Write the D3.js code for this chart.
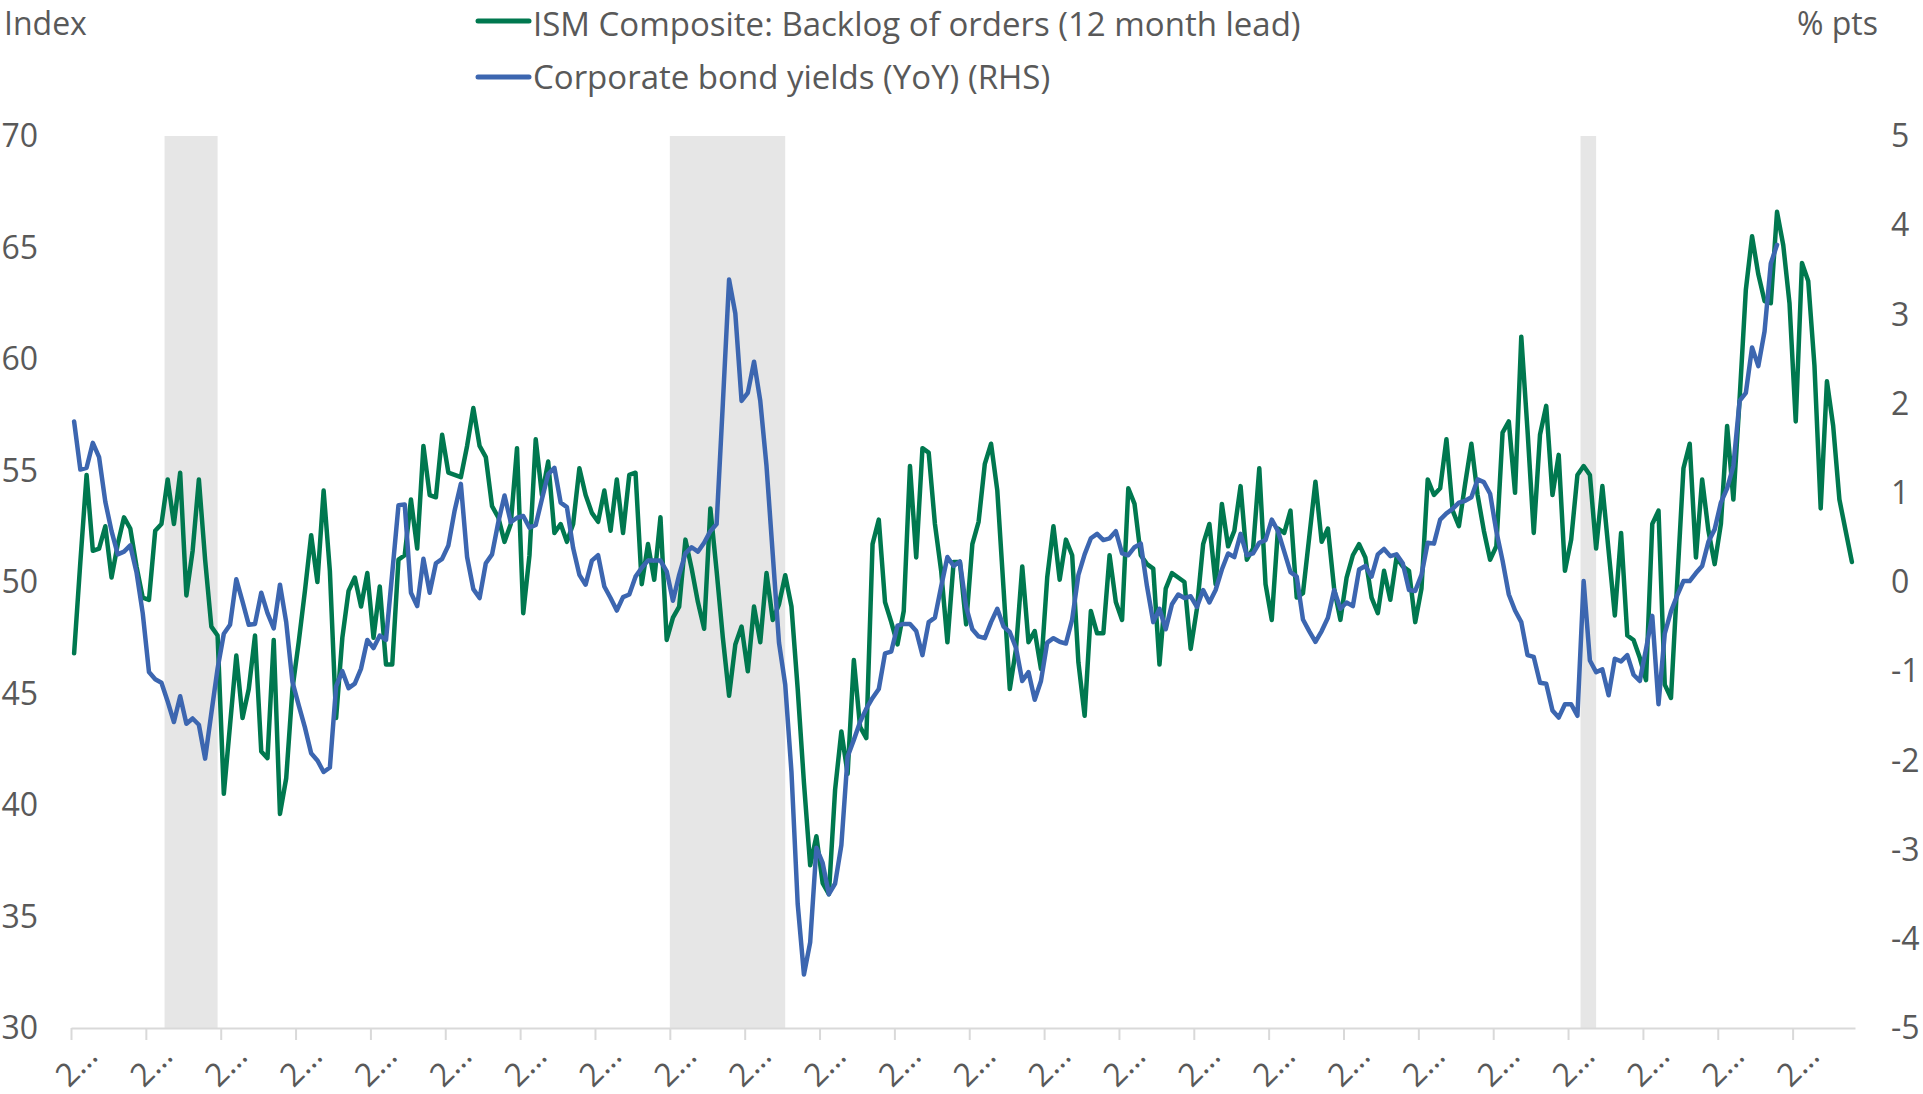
<!DOCTYPE html>
<html><head><meta charset="utf-8">
<script src="https://cdn.jsdelivr.net/npm/d3@7"></script>
<style>
html,body{margin:0;padding:0;background:#fff;}
svg{display:block;}
text{font-family:"Segoe UI","Open Sans",sans-serif;fill:#595959;}
</style></head><body>
<svg id="chart" width="1923" height="1094"></svg>
<script>
// ---------------- data ----------------
const startYear = 2000;           // first category: Jan 2000, monthly
const ismBacklog = [ // ISM Composite: Backlog of orders (12 month lead), Jan 2000 - Oct 2023
46.8,50.9,54.8,51.4,51.5,52.5,50.2,51.7,52.9,52.4,50.7,49.3,
49.2,52.3,52.6,54.6,52.6,54.9,49.4,51.4,54.6,51.0,48.0,47.6,
40.5,43.6,46.7,43.9,45.2,47.6,42.4,42.1,47.4,39.6,41.2,45.2,
47.3,49.6,52.1,50.0,54.1,50.5,43.9,47.5,49.6,50.2,48.9,50.4,
47.5,49.8,46.3,46.3,51.0,51.2,53.7,51.5,56.1,53.9,53.8,56.6,
54.9,54.8,54.7,56.1,57.8,56.1,55.6,53.4,52.9,51.8,52.6,56.0,
48.6,51.2,56.4,53.9,55.4,52.2,52.6,51.8,52.6,55.1,53.9,53.1,
52.7,54.1,52.3,54.6,52.2,54.8,54.9,49.9,51.7,50.1,52.9,47.4,
48.4,48.9,51.9,50.6,49.1,47.9,53.3,50.5,47.5,44.9,47.2,48.0,
46.0,48.9,47.3,50.4,48.3,49.0,50.3,48.9,45.2,41.0,37.3,38.6,
36.5,36.0,40.7,43.3,41.4,46.5,43.5,43.0,51.7,52.8,49.1,48.2,
47.2,48.7,55.2,51.1,56.0,55.8,52.6,50.5,47.3,50.9,50.9,48.1,
51.7,52.7,55.3,56.2,54.1,49.7,45.2,47.0,50.7,47.3,47.8,46.1,
50.2,52.5,50.1,51.9,51.2,46.4,44.0,48.7,47.7,47.7,51.2,49.1,
48.3,54.2,53.5,51.2,50.8,50.6,46.3,49.7,50.4,50.2,50.0,47.0,
48.8,51.7,52.6,49.9,53.5,51.6,52.3,54.3,51.0,51.5,55.1,49.9,
48.3,52.4,52.2,53.2,49.3,49.5,52.0,54.5,51.8,52.4,49.7,48.3,
50.2,51.2,51.7,51.1,49.3,48.6,50.5,49.2,51.1,50.7,50.5,48.2,
49.7,54.6,53.9,54.2,56.4,53.2,52.5,54.4,56.2,53.9,52.3,51.0,
51.6,56.7,57.2,54.0,61.0,56.8,52.2,56.6,57.9,53.9,55.7,50.5,
51.9,54.8,55.2,54.8,51.5,54.3,51.4,48.5,52.2,47.6,47.4,46.6,
45.6,52.6,53.2,45.4,44.8,50.0,55.1,56.2,51.1,54.6,52.3,50.8,
52.6,57.0,53.7,58.2,63.1,65.5,63.8,62.6,62.5,66.6,65.1,62.5,
57.2,64.3,63.5,59.7,53.3,59.0,57.0,53.7,52.3,50.9
];
const bondYieldsYoY = [ // Corporate bond yields (YoY), % pts, Jan 2000 - Oct 2022
1.80,1.26,1.28,1.56,1.40,0.90,0.57,0.31,0.34,0.41,0.11,-0.35,
-1.01,-1.09,-1.13,-1.34,-1.57,-1.28,-1.59,-1.53,-1.60,-1.98,-1.47,-0.97,
-0.58,-0.48,0.03,-0.22,-0.48,-0.47,-0.12,-0.35,-0.52,-0.03,-0.45,-1.12,
-1.38,-1.63,-1.92,-2.00,-2.13,-2.08,-1.17,-1.00,-1.19,-1.14,-0.97,-0.65,
-0.74,-0.60,-0.65,0.10,0.86,0.87,-0.12,-0.27,0.26,-0.12,0.21,0.26,
0.41,0.80,1.10,0.28,-0.08,-0.18,0.21,0.31,0.67,0.97,0.67,0.72,
0.74,0.61,0.64,0.93,1.21,1.28,0.89,0.84,0.38,0.08,-0.03,0.24,
0.30,-0.05,-0.18,-0.32,-0.17,-0.14,0.06,0.16,0.24,0.24,0.24,0.12,
-0.21,0.08,0.32,0.39,0.34,0.44,0.57,0.65,2.00,3.39,3.01,2.03,
2.12,2.47,2.03,1.30,0.31,-0.68,-1.15,-2.13,-3.61,-4.40,-4.04,-2.98,
-3.15,-3.50,-3.38,-2.95,-1.96,-1.77,-1.57,-1.42,-1.30,-1.20,-0.80,-0.78,
-0.49,-0.47,-0.47,-0.55,-0.82,-0.45,-0.40,-0.05,0.28,0.18,0.23,-0.28,
-0.53,-0.61,-0.63,-0.45,-0.30,-0.50,-0.56,-0.74,-1.11,-1.01,-1.32,-1.11,
-0.68,-0.63,-0.67,-0.69,-0.42,0.08,0.31,0.49,0.54,0.47,0.49,0.57,
0.32,0.30,0.39,0.43,-0.05,-0.45,-0.30,-0.53,-0.25,-0.14,-0.18,-0.16,
-0.28,-0.09,-0.23,-0.09,0.14,0.32,0.28,0.54,0.30,0.32,0.44,0.47,
0.70,0.57,0.34,0.11,0.06,-0.42,-0.55,-0.67,-0.55,-0.40,-0.09,-0.30,
-0.23,-0.27,0.14,0.18,0.06,0.31,0.37,0.29,0.31,0.21,-0.09,-0.10,
0.08,0.44,0.43,0.70,0.77,0.82,0.89,0.91,0.95,1.15,1.12,0.99,
0.57,0.24,-0.14,-0.32,-0.45,-0.82,-0.84,-1.13,-1.14,-1.44,-1.52,-1.37,
-1.37,-1.50,0.01,-0.88,-1.01,-0.98,-1.27,-0.86,-0.89,-0.82,-1.04,-1.11,
-0.75,-0.38,-1.37,-0.58,-0.33,-0.15,0.01,0.01,0.10,0.18,0.45,0.59,
0.89,1.05,1.30,2.03,2.12,2.63,2.42,2.81,3.57,3.78
];
const recessions = [ ["2001-04","2001-11"], ["2008-01","2009-06"], ["2020-03","2020-04"] ];
const tickYears  = [2000,2001,2002,2003,2004,2005,2006,2007,2008,2009,2010,2011,
                    2012,2013,2014,2015,2016,2017,2018,2019,2020,2021,2022,2023];
const tickLabels = ["2…","2…","2…","2…","2…","2…","2…","2…","2…","2…","2…","2…",
                    "2…","2…","2…","2…","2…","2…","2…","2…","2…","2…","2…","2…"];
const leftTicks  = [30,35,40,45,50,55,60,65,70];
const rightTicks = [-5,-4,-3,-2,-1,0,1,2,3,4,5];
const seriesNames = ["ISM Composite: Backlog of orders (12 month lead)", "Corporate bond yields (YoY) (RHS)"];
const axisTitles = ["Index", "% pts"];

// ---------------- chart ----------------
const GREEN = "#00784F", BLUE = "#3C66B0", GREY_TXT = "#595959", AXIS = "#D9D9D9", SHADE = "#E6E6E6";
const FS = 32, FS_LEG = 33;
const svg = d3.select("#chart");
const nCat = ismBacklog.length;
const monthIdx = s => { const [y,m] = s.split("-").map(Number); return (y-startYear)*12 + (m-1); };

const x = d3.scaleLinear().domain([0, nCat]).range([71, 1855]);
const yL = d3.scaleLinear().domain([30, 70]).range([1028, 136]);
const yR = d3.scaleLinear().domain([-5, 5]).range([1028, 136]);

// recession shading (drawn through the middle of the month after the trough month)
svg.append("g").selectAll("rect").data(recessions).join("rect")
  .attr("x", d => x(monthIdx(d[0])))
  .attr("width", d => x(monthIdx(d[1]) + 1.5) - x(monthIdx(d[0])))
  .attr("y", yL(70)).attr("height", yL(30) - yL(70))
  .attr("fill", SHADE);

// x axis
const xAxis = d3.axisBottom(x)
  .tickValues(tickYears.map(yr => (yr - startYear) * 12))
  .tickSize(12).tickSizeOuter(0)
  .tickFormat((d, i) => tickLabels[i]);
const gx = svg.append("g").attr("transform", `translate(0,${yL(30)})`).call(xAxis);
gx.select(".domain").attr("stroke", AXIS).attr("stroke-width", 2);
gx.selectAll(".tick line").attr("stroke", AXIS).attr("stroke-width", 2);
gx.selectAll(".tick text")
  .attr("y", null).attr("dy", "0.35em")
  .attr("text-anchor", "end")
  .attr("transform", "translate(20,22) rotate(-45)")
  .style("font-size", FS + "px").attr("fill", GREY_TXT);

// left axis labels
svg.append("g").selectAll("text").data(leftTicks).join("text")
  .attr("x", 38).attr("y", d => yL(d)).attr("dy", "0.35em")
  .attr("text-anchor", "end").style("font-size", FS + "px").text(d => d);
// right axis labels
svg.append("g").selectAll("text").data(rightTicks).join("text")
  .attr("x", 1891).attr("y", d => yR(d)).attr("dy", "0.35em")
  .attr("text-anchor", "start").style("font-size", FS + "px").text(d => d);

// axis titles
svg.append("text").attr("x", 4).attr("y", 24).attr("dy", "0.35em")
  .style("font-size", FS + "px").text(axisTitles[0]);
svg.append("text").attr("x", 1878).attr("y", 24).attr("dy", "0.35em")
  .attr("text-anchor", "end").style("font-size", FS + "px").text(axisTitles[1]);

// lines
const lineL = d3.line().x((d, i) => x(i + 0.5)).y(d => yL(d));
const lineR = d3.line().x((d, i) => x(i + 0.5)).y(d => yR(d));
svg.append("path").datum(ismBacklog).attr("d", lineL)
  .attr("fill", "none").attr("stroke", GREEN).attr("stroke-width", 4.5)
  .attr("stroke-linejoin", "round").attr("stroke-linecap", "round");
svg.append("path").datum(bondYieldsYoY).attr("d", lineR)
  .attr("fill", "none").attr("stroke", BLUE).attr("stroke-width", 4.5)
  .attr("stroke-linejoin", "round").attr("stroke-linecap", "round");

// legend
const legend = svg.append("g");
[[GREEN, 21, 24], [BLUE, 77, 77]].forEach(([c, ym, yt], i) => {
  legend.append("line").attr("x1", 478).attr("x2", 529).attr("y1", ym).attr("y2", ym)
    .attr("stroke", c).attr("stroke-width", 5).attr("stroke-linecap", "round");
  legend.append("text").attr("x", 533).attr("y", yt).attr("dy", "0.35em")
    .style("font-size", FS_LEG + "px").text(seriesNames[i]);
});
</script>
</body></html>
